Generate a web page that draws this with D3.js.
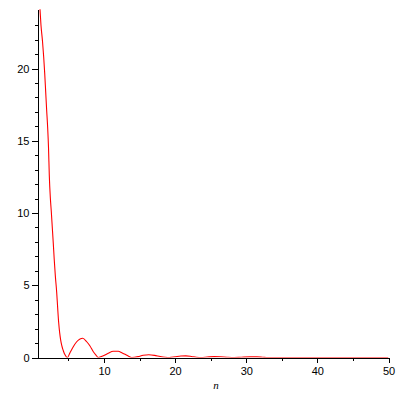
<!DOCTYPE html>
<html>
<head>
<meta charset="utf-8">
<script src="https://cdn.jsdelivr.net/npm/d3@7"></script>
<style>
  html, body { margin: 0; padding: 0; background: #fff; }
  svg { display: block; }
  .tick text { font-family: "Liberation Sans", Arial, sans-serif; font-size: 11px; fill: #000; }
</style>
</head>
<body>
<svg id="chart" width="400" height="400"></svg>
<script>
// ---- data ----
const nValues = [1.0, 1.14, 1.35, 1.52, 1.66, 1.8, 1.94, 2.08, 2.2, 2.31, 2.45, 2.59, 2.73, 2.87, 3.0, 3.15,
  3.35, 3.49, 3.63, 3.77, 3.91, 4.05, 4.19, 4.33, 4.5, 4.7, 4.85,
  5.22, 5.68, 6.16, 6.63, 7.0, 7.57, 8.03, 8.5, 8.87, 9.2,
  9.9, 10.6, 11.3, 12.0, 12.5, 12.95, 13.4, 13.9,
  14.8, 15.5, 16.3, 17.1, 17.9, 18.6, 19.2,
  20.0, 20.8, 21.5, 22.3, 23.0, 23.7,
  24.5, 25.5, 26.4, 27.3, 28.3,
  29.3, 30.5, 31.5, 32.3, 33.0, 50.0];
const fValues = [24.1, 23.0, 21.9, 20.8, 19.7, 18.4, 17.1, 15.9, 14.5, 12.6, 11.1, 10.1, 9.0, 7.9, 6.8, 5.7,
  4.5, 3.4, 2.4, 1.7, 1.2, 0.85, 0.6, 0.4, 0.2, 0.05, 0.0,
  0.33, 0.75, 1.09, 1.28, 1.33, 1.09, 0.8, 0.4, 0.17, 0.0,
  0.12, 0.29, 0.43, 0.43, 0.33, 0.22, 0.1, 0.0,
  0.06, 0.15, 0.19, 0.15, 0.07, 0.02, 0.0,
  0.05, 0.1, 0.11, 0.07, 0.02, 0.0,
  0.03, 0.06, 0.05, 0.02, 0.0,
  0.02, 0.04, 0.04, 0.02, 0.0, 0.0];
const xMajorTicks = [10, 20, 30, 40, 50];
const xMinorTicks = [5, 15, 25, 35, 45];
const yMajorTicks = [0, 5, 10, 15, 20];
const yMinorTicks = [1,2,3,4,6,7,8,9,11,12,13,14,16,17,18,19,21,22,23];
const xLabel = "n";

const points = nValues.map((n, i) => ({ n, f: fValues[i] }));

const svg = d3.select("#chart");
const x = d3.scaleLinear().domain([0.65, 50]).range([37.5, 388.5]);
const y = d3.scaleLinear().domain([0, 24.12]).range([357.5, 9]);

svg.append("defs").append("clipPath").attr("id", "clip")
  .append("rect").attr("x", 37.5).attr("y", 9).attr("width", 351).attr("height", 348.5);

const line = d3.line().x(d => x(d.n)).y(d => y(d.f)).curve(d3.curveMonotoneX);
svg.append("path")
  .datum(points)
  .attr("clip-path", "url(#clip)")
  .attr("fill", "none")
  .attr("stroke", "#ff0000")
  .attr("stroke-width", 1.1)
  .attr("d", line);

// x axis
const gxMinor = svg.append("g").attr("transform", `translate(0,${y(0)})`)
  .call(d3.axisBottom(x).tickValues(xMinorTicks).tickSizeInner(3).tickSizeOuter(0).tickFormat(""));
gxMinor.select(".domain").remove();
const gx = svg.append("g").attr("transform", `translate(0,${y(0)})`)
  .call(d3.axisBottom(x).tickValues(xMajorTicks).tickSizeInner(5).tickSizeOuter(0).tickPadding(5).tickFormat(d3.format("d")));

// y axis
const gyMinor = svg.append("g").attr("transform", `translate(${x.range()[0]},0)`)
  .call(d3.axisLeft(y).tickValues(yMinorTicks).tickSizeInner(3).tickSizeOuter(0).tickFormat(""));
gyMinor.select(".domain").remove();
const gy = svg.append("g").attr("transform", `translate(${x.range()[0]},0)`)
  .call(d3.axisLeft(y).tickValues(yMajorTicks).tickSizeInner(6).tickSizeOuter(0).tickPadding(2).tickFormat(d3.format("d")));

svg.selectAll(".domain, .tick line").attr("stroke", "#000").attr("stroke-width", 1).attr("shape-rendering", "crispEdges");

svg.append("text")
  .attr("x", 216).attr("y", 389)
  .attr("text-anchor", "middle")
  .attr("font-family", "Liberation Serif, Times New Roman, serif")
  .attr("font-style", "italic")
  .attr("font-size", 11)
  .text(xLabel);
</script>
</body>
</html>
